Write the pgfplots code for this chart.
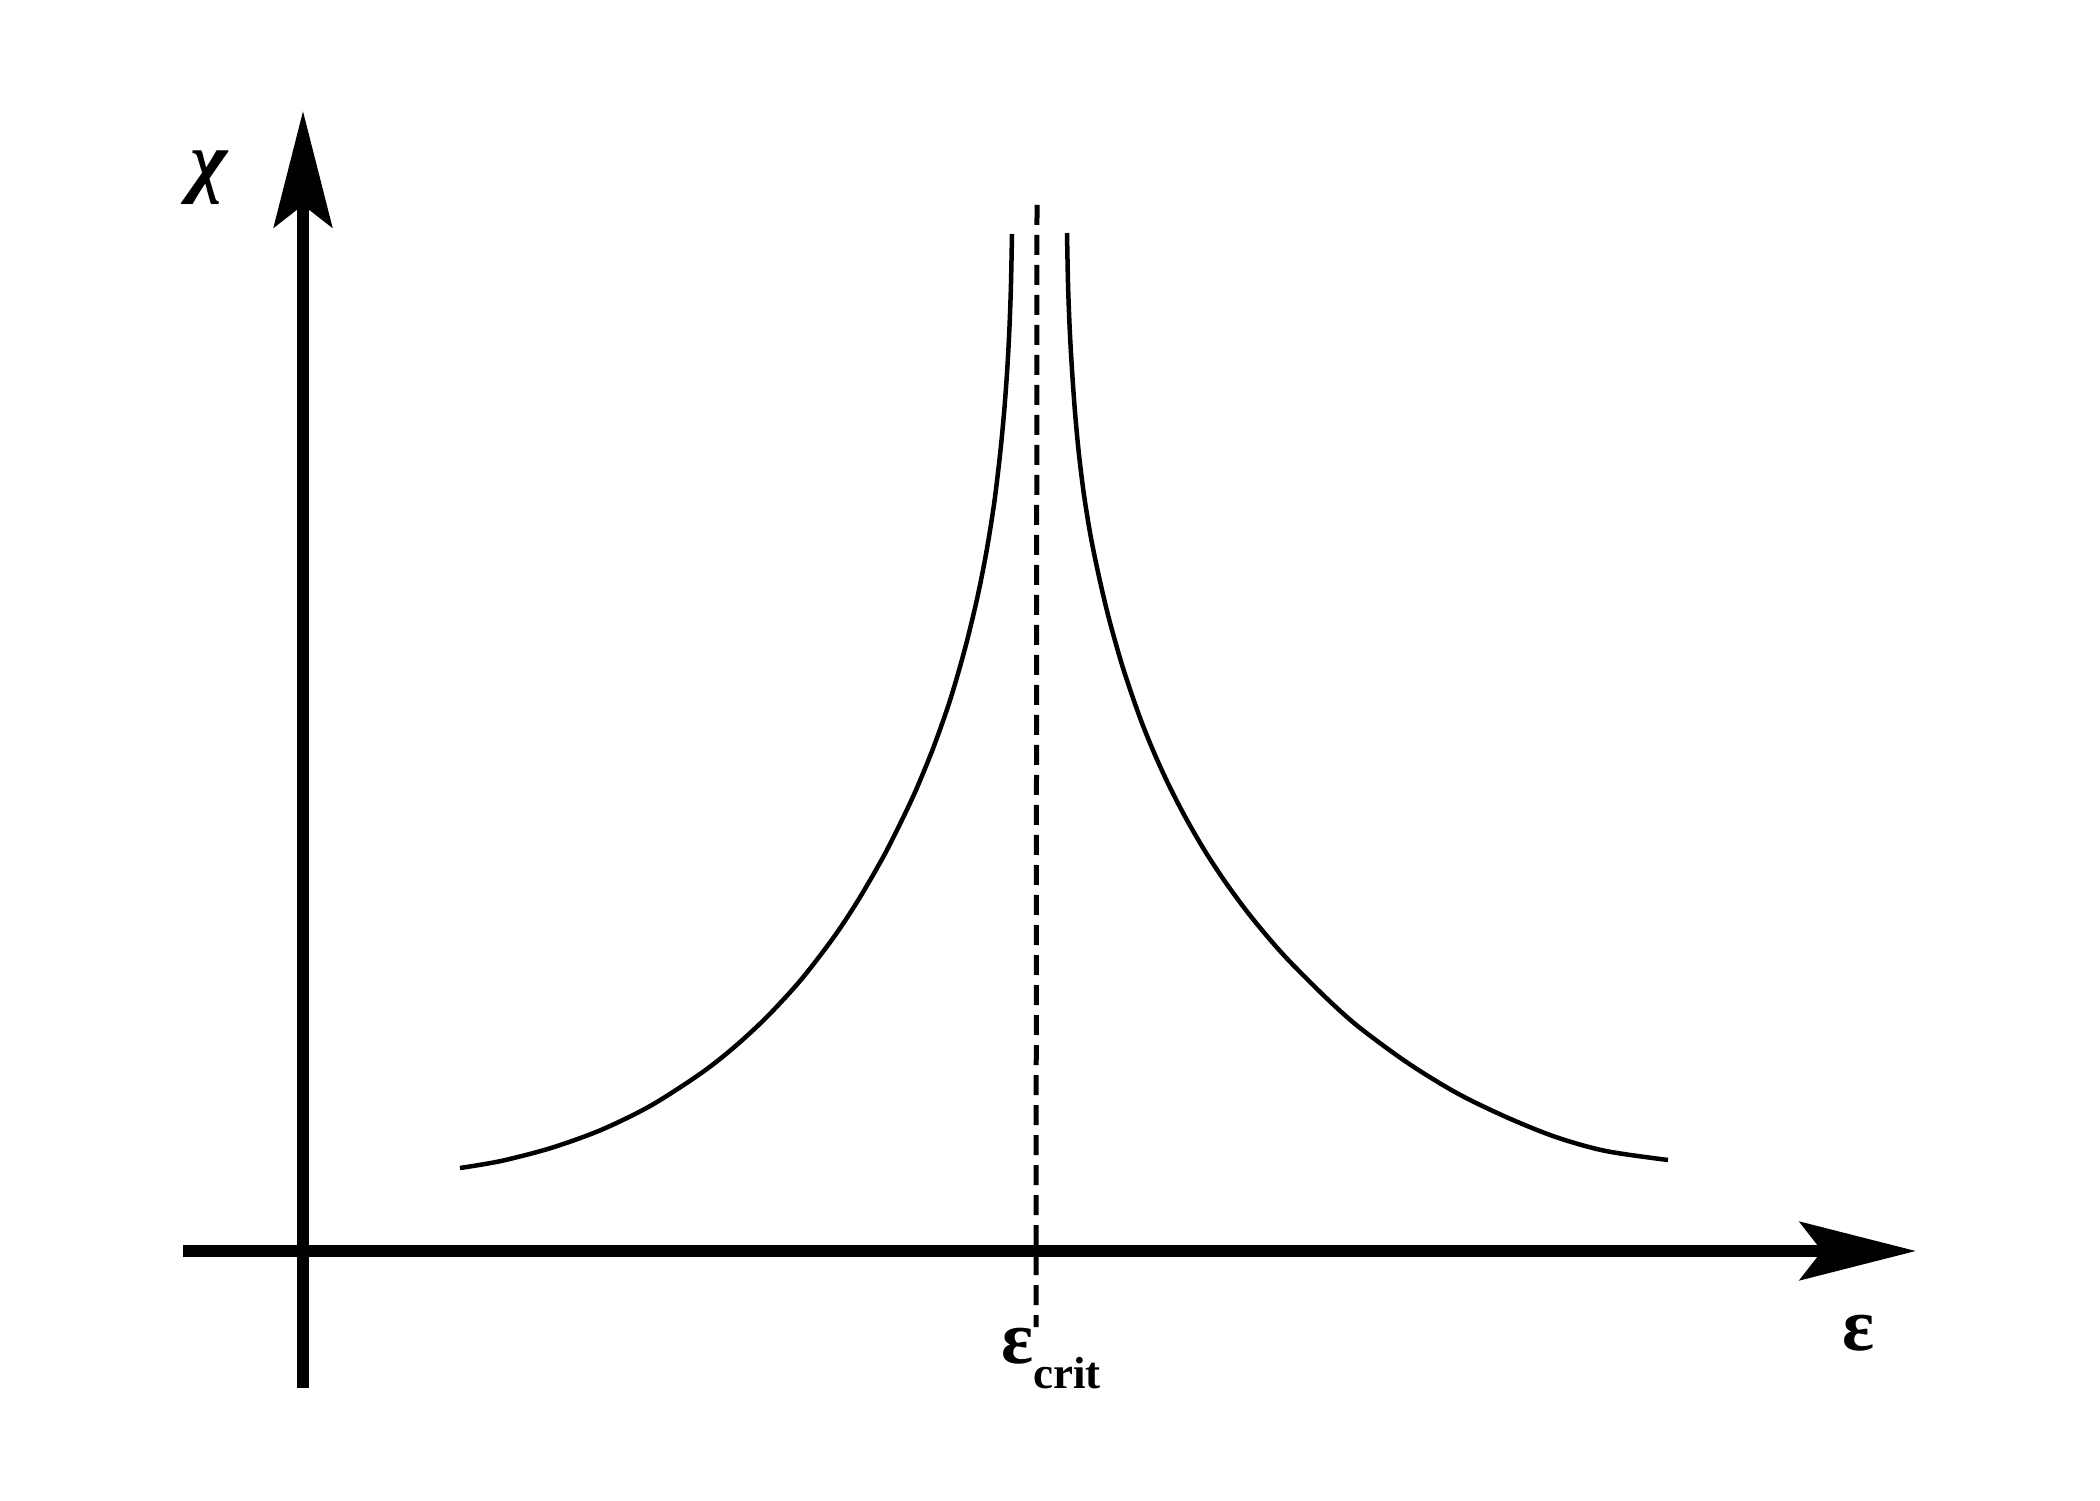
\documentclass[border=0pt]{standalone}
\usepackage{fontspec}
\setmainfont{Liberation Serif}
\usepackage{pgfplots}
\pgfplotsset{compat=1.18}
\usetikzlibrary{arrows.meta}
\begin{document}
\begin{tikzpicture}
\begin{axis}[
  x=0.2pt, y=0.2pt,
  axis lines=middle,
  xmin=-120, xmax=1613, ymin=-137, ymax=1140,
  xtick=\empty, ytick=\empty,
  clip=false,
  x axis line style={line width=2.4pt, -{Stealth[length=23.2pt,width=11.6pt,inset=4.4pt]}},
  y axis line style={line width=2.4pt, -{Stealth[length=23.2pt,width=11.6pt,inset=4.4pt]}},
]
% left branch
\addplot[black, line width=0.9pt, smooth, tension=0.5] coordinates {
(157,83) (198,90) (248,103) (298,121) (348,145.5) (398.4,178)
(431.4,204) (463.8,234) (497.8,271) (530.9,314) (555.3,351) (580.2,394)
(597.5,428) (613,461) (630.6,504) (647.1,551) (661.6,601) (673.8,651)
(683.2,698) (691.2,748) (697.2,798) (701.2,840) (704.2,881) (706.3,920)
(707.9,964) (709,1017)
};
% right branch
\addplot[black, line width=0.9pt, smooth, tension=0.5] coordinates {
(764,1018) (765.1,964) (766.8,920) (769,881) (771.9,840) (775.8,798) (781,756)
(787.8,714) (796.5,672) (806.3,631) (820.3,582) (836.7,534) (850.3,500)
(864.8,468) (881.7,435) (901.3,401) (920.9,371) (942.8,341) (963.1,316)
(985.3,291) (1023.3,253) (1055.8,224) (1104.8,188) (1153.7,158) (1203.1,134)
(1252.7,114) (1302.7,100) (1365,91)
};
% critical line
\addplot[black, line width=1pt, dash pattern=on 4pt off 2pt] coordinates {(734,1046) (733,-76)};
\node at (axis cs:-94,1073) {\fontsize{16}{16}\selectfont\bfseries\itshape χ};
\node at (axis cs:1555,-82) {\fontsize{15}{15}\selectfont\bfseries ε};
\node[anchor=base west, inner sep=0pt] at (axis cs:697,-112) {\fontsize{15}{15}\selectfont\bfseries ε\raisebox{-5pt}{\fontsize{9}{9}\selectfont crit}};
\coordinate (BL) at (axis cs:-303,-249);
\coordinate (TR) at (axis cs:1797,1251);
\end{axis}
\pgfresetboundingbox
\useasboundingbox (BL) rectangle (TR);
\end{tikzpicture}
\end{document}
